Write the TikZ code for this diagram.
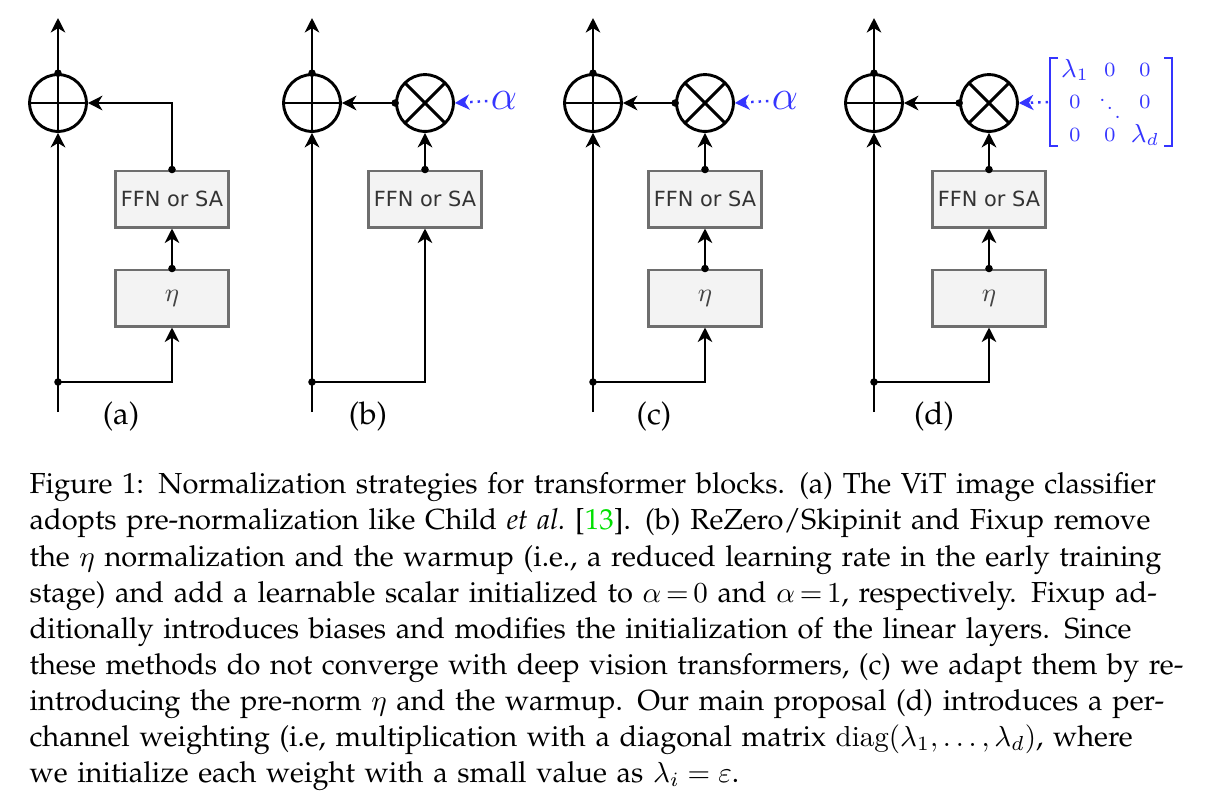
\documentclass[tikz,border=0pt]{standalone}
\usepackage{fontspec}
\usepackage[T1]{fontenc}
\renewcommand{\rmdefault}{ppl}
\newfontfamily\dejavu{DejaVu Sans}
\usetikzlibrary{arrows.meta}
\definecolor{boxfill}{HTML}{F3F3F3}
\definecolor{boxline}{HTML}{6E6E6E}
\definecolor{boxtext}{HTML}{333333}
\definecolor{etatext}{HTML}{444444}
\definecolor{annblue}{HTML}{3535FF}
\definecolor{citegreen}{HTML}{00E000}
\begin{document}
\begin{tikzpicture}[x=0.345pt,y=-0.345pt,
  conn/.style={line width=1pt,-{Stealth[length=5pt,width=5pt,inset=1.5pt]}},
  bluearrow/.style={annblue,line width=0.85pt,dash pattern=on 0.85pt off 1.7pt,-{Stealth[length=5pt,width=5.2pt,inset=1.5pt]}},
  sumnode/.style={circle,draw,line width=1pt,minimum size=19.6pt,inner sep=0pt,
    path picture={\draw[line width=1pt] (path picture bounding box.north) -- (path picture bounding box.south) (path picture bounding box.west) -- (path picture bounding box.east);}},
  mulnode/.style={circle,draw,line width=1pt,minimum size=19.6pt,inner sep=0pt,
    path picture={\draw[line width=1pt] (path picture bounding box.north west) -- (path picture bounding box.south east) (path picture bounding box.north east) -- (path picture bounding box.south west);}},
  block/.style={rectangle,draw=boxline,fill=boxfill,line width=0.75pt,minimum width=39pt,minimum height=19.6pt,inner sep=0pt,text=boxtext,font=\dejavu\fontsize{7.2}{8}\selectfont},
  etablock/.style={block,text=etatext,font=\fontsize{9.5}{10}\selectfont},
  sublabel/.style={inner sep=0pt,font=\fontsize{10.8}{12}\selectfont},
  alphalabel/.style={inner sep=1pt,text=annblue,font=\fontsize{15}{16}\selectfont},
  matentry/.style={inner sep=0pt,text=annblue,font=\fontsize{9}{10}\selectfont},
  zeroentry/.style={inner sep=0pt,text=annblue,font=\fontsize{7}{8}\selectfont},
  bracket/.style={annblue,line width=0.65pt}
]
\useasboundingbox (0,0) rectangle (1206,802);
\def\dotr{1.3pt}
% ---------- panel (a)
\node[sumnode] (plusA) at (58,103) {};
\node[block] (ffnA) at (172,199) {FFN or SA};
\node[etablock] (etaA) at (172,298) {$\eta$};
\coordinate (inA) at (58,412);
\coordinate (outA) at (58,18);
\coordinate (splitA) at (58,382);
\draw[conn] (inA) -- (plusA.south);
\draw[conn] (plusA.north) -- (outA);
\draw[conn] (splitA) -| (etaA.south);
\draw[conn] (etaA.north) -- (ffnA.south);
\draw[conn] (ffnA.north) |- (plusA.east);
\fill (splitA) circle (\dotr) (plusA.north) circle (\dotr) (etaA.north) circle (\dotr) (ffnA.north) circle (\dotr);
\node[sublabel] (labA) at (121,416) {(a)};
% ---------- panel (b)
\node[sumnode] (plusB) at (312,103) {};
\node[mulnode] (mulB) at (425,103) {};
\node[block] (ffnB) at (425,199) {FFN or SA};
\coordinate (inB) at (312,412);
\coordinate (outB) at (312,18);
\coordinate (splitB) at (312,382);
\node[alphalabel] (alphaB) at (504,101) {$\alpha$};
\draw[conn] (inB) -- (plusB.south);
\draw[conn] (plusB.north) -- (outB);
\draw[conn] (splitB) -| (ffnB.south);
\draw[conn] (ffnB.north) -- (mulB.south);
\draw[conn] (mulB.west) -- (plusB.east);
\draw[bluearrow] (alphaB.west) -- (mulB.east);
\fill (splitB) circle (\dotr) (plusB.north) circle (\dotr) (ffnB.north) circle (\dotr) (mulB.west) circle (\dotr);
\node[sublabel] (labB) at (368,416) {(b)};
% ---------- panel (c)
\node[sumnode] (plusC) at (593,103) {};
\node[mulnode] (mulC) at (705,103) {};
\node[block] (ffnC) at (705,199) {FFN or SA};
\node[etablock] (etaC) at (705,298) {$\eta$};
\coordinate (inC) at (593,412);
\coordinate (outC) at (593,18);
\coordinate (splitC) at (593,382);
\node[alphalabel] (alphaC) at (785,101) {$\alpha$};
\draw[conn] (inC) -- (plusC.south);
\draw[conn] (plusC.north) -- (outC);
\draw[conn] (splitC) -| (etaC.south);
\draw[conn] (etaC.north) -- (ffnC.south);
\draw[conn] (ffnC.north) -- (mulC.south);
\draw[conn] (mulC.west) -- (plusC.east);
\draw[bluearrow] (alphaC.west) -- (mulC.east);
\fill (splitC) circle (\dotr) (plusC.north) circle (\dotr) (etaC.north) circle (\dotr) (ffnC.north) circle (\dotr) (mulC.west) circle (\dotr);
\node[sublabel] (labC) at (654,416) {(c)};
% ---------- panel (d)
\node[sumnode] (plusD) at (874,103) {};
\node[mulnode] (mulD) at (989,103) {};
\node[block] (ffnD) at (989,199) {FFN or SA};
\node[etablock] (etaD) at (989,298) {$\eta$};
\coordinate (inD) at (874,412);
\coordinate (outD) at (874,18);
\coordinate (splitD) at (874,382);
\coordinate (matD) at (1048,102);
\draw[conn] (inD) -- (plusD.south);
\draw[conn] (plusD.north) -- (outD);
\draw[conn] (splitD) -| (etaD.south);
\draw[conn] (etaD.north) -- (ffnD.south);
\draw[conn] (ffnD.north) -- (mulD.south);
\draw[conn] (mulD.west) -- (plusD.east);
\draw[bluearrow] (matD) -- (mulD.east);
\fill (splitD) circle (\dotr) (plusD.north) circle (\dotr) (etaD.north) circle (\dotr) (ffnD.north) circle (\dotr) (mulD.west) circle (\dotr);
\node[sublabel] (labD) at (934,416) {(d)};
% matrix
\node[matentry] (m11) at (1075,70) {$\lambda_1$};
\node[zeroentry] (m12) at (1110,70) {$0$};
\node[zeroentry] (m13) at (1145,70) {$0$};
\node[zeroentry] (m21) at (1075,102) {$0$};
\node[zeroentry] (m22) at (1110,100) {$\ddots$};
\node[zeroentry] (m23) at (1145,102) {$0$};
\node[zeroentry] (m31) at (1075,135) {$0$};
\node[zeroentry] (m32) at (1110,135) {$0$};
\node[matentry] (m33) at (1145,135) {$\lambda_d$};
\draw[bracket] (1058,58) -- (1050,58) -- (1050,146) -- (1058,146);
\draw[bracket] (1164,58) -- (1172,58) -- (1172,146) -- (1164,146);
% ---------- caption
\node[anchor=north west,inner sep=0pt,text width=394.4pt,align=left,
  font={\fontsize{10}{12.45}\selectfont}] (caption) at (29,468) {%
\strut\makebox[\linewidth][s]{Figure 1: Normalization strategies for transformer blocks. (a) The ViT image classifier}\\
\makebox[\linewidth][s]{adopts pre-normalization like Child \emph{et al.}\ [\textcolor{citegreen}{13}]. (b) ReZero/Skipinit and Fixup remove}\\
\makebox[\linewidth][s]{the $\eta$ normalization and the warmup (i.e., a reduced learning rate in the early training}\\
\makebox[\linewidth][s]{stage) and add a learnable scalar initialized to $\alpha\,{=}\,0$ and $\alpha\,{=}\,1$, respectively. Fixup ad-}\\
\makebox[\linewidth][s]{ditionally introduces biases and modifies the initialization of the linear layers. Since}\\
\makebox[\linewidth][s]{these methods do not converge with deep vision transformers, (c) we adapt them by re-}\\
\makebox[\linewidth][s]{introducing the pre-norm $\eta$ and the warmup. Our main proposal (d) introduces a per-}\\
\makebox[\linewidth][s]{channel weighting (i.e, multiplication with a diagonal matrix $\mathrm{diag}(\lambda_1,\ldots,\lambda_d)$, where}\\
we initialize each weight with a small value as $\lambda_i=\varepsilon$.};
\end{tikzpicture}
\end{document}
